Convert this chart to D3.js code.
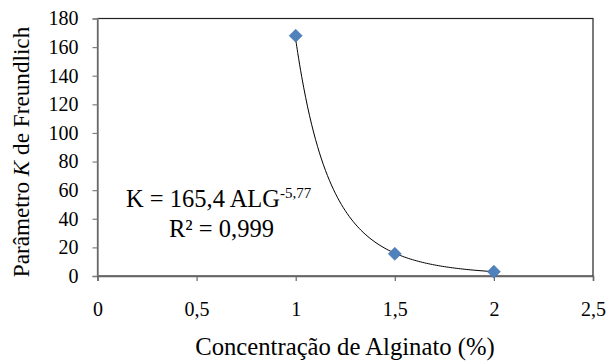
<!DOCTYPE html>
<html>
<head>
<meta charset="utf-8">
<script src="https://cdn.jsdelivr.net/npm/d3@7"></script>
</head>
<body style="margin:0;background:#fff">
<svg id="chart" width="606" height="361" font-family='"Liberation Serif"'></svg>
<script>
// Alginate concentration (%) and Freundlich K parameter
const concentration = [1, 1.5, 2];
const kValues = [168, 15.5, 3];

// Power-law fit K = a * ALG^b
const fitA = 165.4;
const fitB = -5.77;

const xTicks = [0, 0.5, 1, 1.5, 2, 2.5];
const yTicks = [0, 20, 40, 60, 80, 100, 120, 140, 160, 180];

const serif = '"Liberation Serif"';

const svg = d3.select("#chart");
const margin = { left: 97.5, right: 13, top: 18.5, bottom: 85 };
const W = 606, H = 361;

const x = d3.scaleLinear().domain([0, 2.5]).range([margin.left, W - margin.right]);
const y = d3.scaleLinear().domain([0, 180]).range([H - margin.bottom, margin.top]);

const fmt = d => String(d).replace(".", ",");

// plot frame
svg.append("rect")
  .attr("x", x(0)).attr("y", y(180))
  .attr("width", x(2.5) - x(0)).attr("height", y(0) - y(180))
  .attr("fill", "none").attr("stroke", "#222").attr("stroke-width", 1.2);

// y axis
const yAxis = svg.append("g")
  .attr("transform", `translate(${x(0)},0)`)
  .call(d3.axisLeft(y).tickValues(yTicks).tickSize(5).tickPadding(14).tickFormat(fmt))
  .attr("font-family", serif);
yAxis.select(".domain").attr("stroke", "#808080").attr("stroke-width", 1.5);
yAxis.selectAll(".tick line").attr("stroke", "#808080").attr("stroke-width", 1.2);
yAxis.selectAll(".tick text").attr("font-size", 20).attr("fill", "#000").attr("font-family", serif);

// x axis
const xAxis = svg.append("g")
  .attr("transform", `translate(0,${y(0)})`)
  .call(d3.axisBottom(x).tickValues(xTicks).tickSize(5).tickPadding(21).tickFormat(fmt))
  .attr("font-family", serif);
xAxis.select(".domain").attr("stroke", "#666").attr("stroke-width", 1.5);
xAxis.selectAll(".tick line").attr("stroke", "#666").attr("stroke-width", 1.2);
xAxis.selectAll(".tick text").attr("font-size", 20).attr("fill", "#000").attr("font-family", serif);

// fitted curve
const curveX = d3.range(1, 2.0001, 0.01);
const line = d3.line().x(d => x(d)).y(d => y(fitA * Math.pow(d, fitB))).curve(d3.curveBasis);
svg.append("path")
  .datum(curveX)
  .attr("d", line)
  .attr("fill", "none")
  .attr("stroke", "#000")
  .attr("stroke-width", 1);

// data markers (diamonds)
svg.selectAll(".pt")
  .data(concentration.map((c, i) => [c, kValues[i]]))
  .join("path")
  .attr("class", "pt")
  .attr("transform", d => `translate(${x(d[0])},${y(d[1])})`)
  .attr("d", "M0,-6.5L6.5,0L0,6.5L-6.5,0Z")
  .attr("fill", "#4F81BD")
  .attr("stroke", "#4672A8")
  .attr("stroke-width", 0.6);

// equation annotation
const eq = svg.append("text").attr("x", 126).attr("y", 207).attr("font-size", 24.5).attr("font-family", serif);
eq.append("tspan").text("K = 165,4 ALG");
eq.append("tspan").attr("font-size", 15).attr("dy", -9.5).text("-5,77");
svg.append("text").attr("x", 169).attr("y", 237).attr("font-size", 24.5).attr("font-family", serif).text("R² = 0,999");

// axis titles
svg.append("text")
  .attr("x", 345)
  .attr("y", 355)
  .attr("text-anchor", "middle")
  .attr("font-size", 24.7)
  .attr("font-family", serif)
  .text("Concentração de Alginato (%)");

const yt = svg.append("text")
  .attr("transform", `translate(29,152) rotate(-90)`)
  .attr("text-anchor", "middle")
  .attr("font-size", 23.2)
  .attr("font-family", serif);
yt.append("tspan").text("Parâmetro ");
yt.append("tspan").attr("font-style", "italic").text("K");
yt.append("tspan").text(" de Freundlich");
</script>
</body>
</html>
